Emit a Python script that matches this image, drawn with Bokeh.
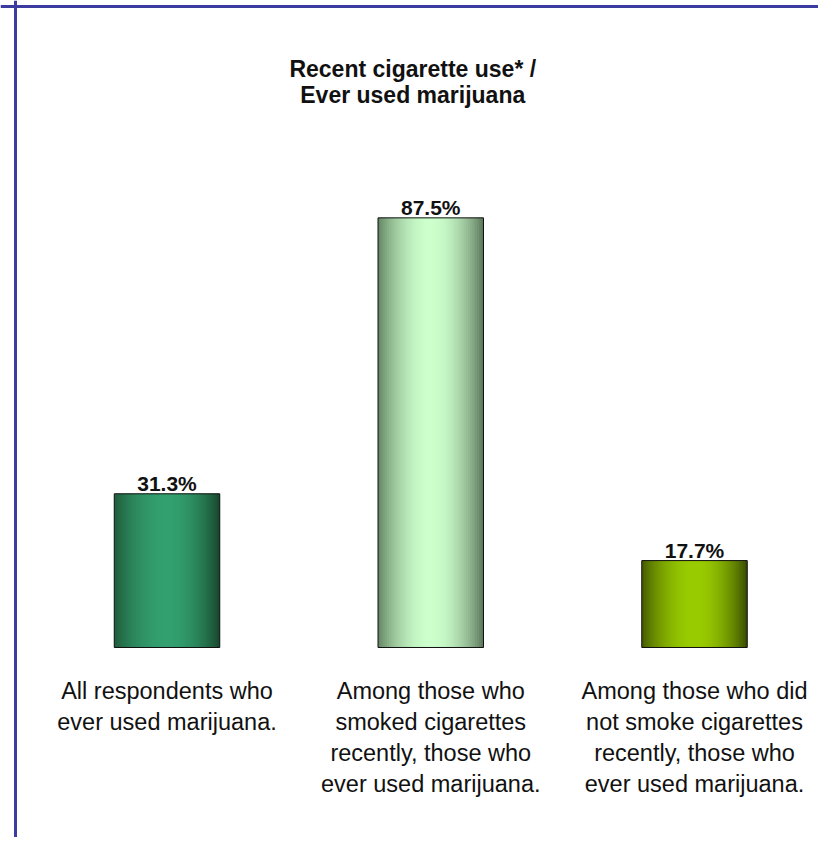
import numpy as np
from bokeh.plotting import figure
from bokeh.models import Range1d, Span
from bokeh.core.properties import value
from bokeh.embed import file_html
from bokeh.resources import INLINE

# ---- data ----
categories = [
    "All respondents who\never used marijuana.",
    "Among those who\nsmoked cigarettes\nrecently, those who\never used marijuana.",
    "Among those who did\nnot smoke cigarettes\nrecently, those who\never used marijuana.",
]
values = [31.3, 87.5, 17.7]
value_labels = ["31.3%", "87.5%", "17.7%"]
title_lines = ["Recent cigarette use* /", "Ever used marijuana"]

# ---- styling ----
edge_left = ["#1f5a3a", "#5f7f5f", "#415600"]
center_col = ["#33a070", "#ccffcc", "#99cc00"]
edge_right = ["#164329", "#566f56", "#344500"]
FONT = "Liberation Sans"
W, H = 818, 837
bar_w = 0.4

x0, x1 = -0.6313, 2.4701
y0, y1 = -38.70, 131.77
px_x = W / (x1 - x0)
px_y = H / (y1 - y0)

p = figure(width=W, height=H, output_backend="svg", toolbar_location=None,
           x_range=Range1d(x0, x1), y_range=Range1d(y0, y1), min_border=0)
p.xaxis.visible = False
p.yaxis.visible = False
p.grid.visible = False
p.outline_line_color = None
p.background_fill_color = "white"
p.border_fill_color = "white"


def hex2rgb(h):
    h = h.lstrip("#")
    return np.array([int(h[i:i + 2], 16) for i in (0, 2, 4)], dtype=float)


def rgb2hex(c):
    c = np.clip(np.round(c), 0, 255).astype(int)
    return "#%02x%02x%02x" % tuple(c)


# gradient strips for each bar (overlapping slightly to avoid seams, clipped to the bar)
N = 48
strip_w = bar_w / N
lefts, rights, tops, cols = [], [], [], []
for i, v in enumerate(values):
    cl, cc, cr = hex2rgb(edge_left[i]), hex2rgb(center_col[i]), hex2rgb(edge_right[i])
    for k in range(N):
        u = (k + 0.5) / N
        t = np.sin(np.pi * u) ** 0.8
        edge = cl if u < 0.5 else cr
        cols.append(rgb2hex(edge + (cc - edge) * t))
        lft = i - bar_w / 2 + k * strip_w
        lefts.append(lft)
        rights.append(min(lft + strip_w * 1.8, i + bar_w / 2))
        tops.append(v)
p.quad(left=lefts, right=rights, top=tops, bottom=0, fill_color=cols, line_color=None)

xi = list(range(len(values)))
p.vbar(x=xi, top=values, bottom=0, width=bar_w, fill_alpha=0, line_color="#111111", line_width=1)

# value labels
p.text(x=xi, y=values, text=value_labels, y_offset=-10, text_align="center",
       text_baseline="alphabetic", text_font=value(FONT), text_font_style="bold",
       text_font_size="21px", text_color="#111111")

# category labels
lx, ly, lt, lo = [], [], [], []
for i, c in enumerate(categories):
    for k, line in enumerate(c.split("\n")):
        lx.append(i)
        ly.append(0)
        lt.append(line)
        lo.append(44 + 31 * k)
p.text(x=lx, y=ly, text=lt, y_offset=lo, text_align="center", text_baseline="alphabetic",
       text_font=value(FONT), text_font_size="23.5px", text_color="#111111")

# title
tx = (len(values) - 1) / 2
p.text(x=[tx] * len(title_lines), y=[y1] * len(title_lines), text=title_lines,
       x_offset=-18, y_offset=[68, 94], text_align="center", text_baseline="alphabetic",
       text_font=value(FONT), text_font_style="bold", text_font_size="23px",
       text_color="#111111")

# frame border (left and top)
p.add_layout(Span(location=x0 + 15 / px_x, dimension="height", line_color="#3c3ca0", line_width=3))
p.add_layout(Span(location=y1 - 6 / px_y, dimension="width", line_color="#3c3ca0", line_width=3))

open("out.html", "w").write(file_html(p, INLINE))
